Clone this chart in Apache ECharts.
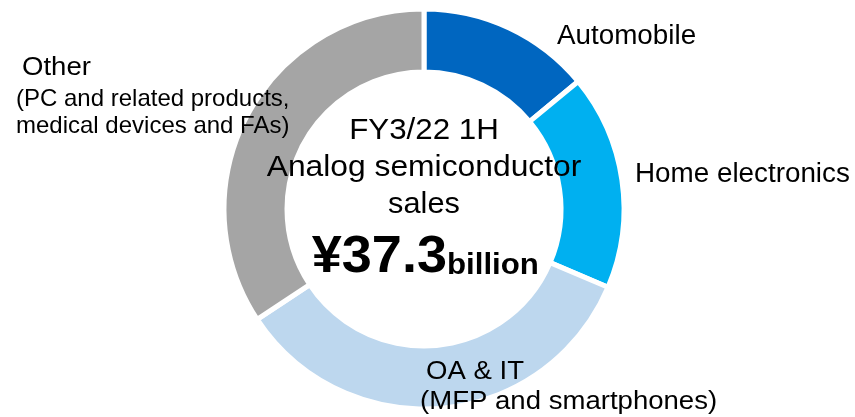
<!DOCTYPE html>
<html>
<head>
<meta charset="utf-8">
<script src="https://cdn.jsdelivr.net/npm/echarts@6/dist/echarts.min.js"></script>
<style>
  html, body { margin: 0; padding: 0; background: #fff; }
  #salesDonut { width: 855px; height: 417px; }
</style>
</head>
<body>
<div id="salesDonut"></div>
<script>
// share of analog semiconductor sales, FY3/22 1H (%)
const categories = ['Automobile', 'Home electronics', 'OA & IT', 'Other']
const shares = [14.0, 17.4, 34.3, 34.3]
const colors = ['#0066c0', '#00b0f0', '#bdd7ee', '#a5a5a5']

const font = '"Liberation Sans", Arial, sans-serif'

// plain text helper, y is the middle of the capitals
function label(text, x, y, size, opts) {
  opts = opts || {}
  return {
    type: 'text',
    x: x,
    y: y,
    z: 100,
    scaleX: opts.scaleX || 1,
    silent: true,
    style: {
      text: text,
      fill: '#000',
      font: (opts.bold ? 'bold ' : '') + size + 'px ' + font,
      align: opts.align || 'left',
      verticalAlign: 'middle'
    }
  }
}

const chart = echarts.init(document.getElementById('salesDonut'))
chart.setOption({
  animation: false,
  color: colors,
  series: [
    {
      type: 'pie',
      center: [424, 209],
      radius: [137, 200],
      startAngle: 90,
      silent: true,
      label: { show: false },
      labelLine: { show: false },
      itemStyle: { borderColor: '#fff', borderWidth: 5 },
      data: categories.map((name, i) => ({ name: name, value: shares[i] }))
    }
  ],
  graphic: [
    label('Automobile', 557, 37, 27, { scaleX: 1.03 }),
    label('Home electronics', 635, 175, 27, { scaleX: 1.03 }),
    label('Other', 22, 68, 26, { scaleX: 1.06 }),
    label('(PC and related products,', 16, 99, 24),
    label('medical devices and FAs)', 16, 126, 24),
    label('OA & IT', 426, 372, 26, { scaleX: 1.06 }),
    label('(MFP and smartphones)', 420, 402, 26, { scaleX: 1.06 }),
    // centre of the ring
    label('FY3/22 1H', 424, 131, 29, { align: 'center', scaleX: 1.08 }),
    label('Analog semiconductor', 424, 168, 30, { align: 'center', scaleX: 1.06 }),
    label('sales', 424, 205, 29, { align: 'center', scaleX: 1.06 }),
    label('¥37.3', 447, 258, 51, { align: 'right', bold: true, scaleX: 1.06 }),
    label('billion', 447, 266, 30, { bold: true, scaleX: 1.04 })
  ]
})
</script>
</body>
</html>
